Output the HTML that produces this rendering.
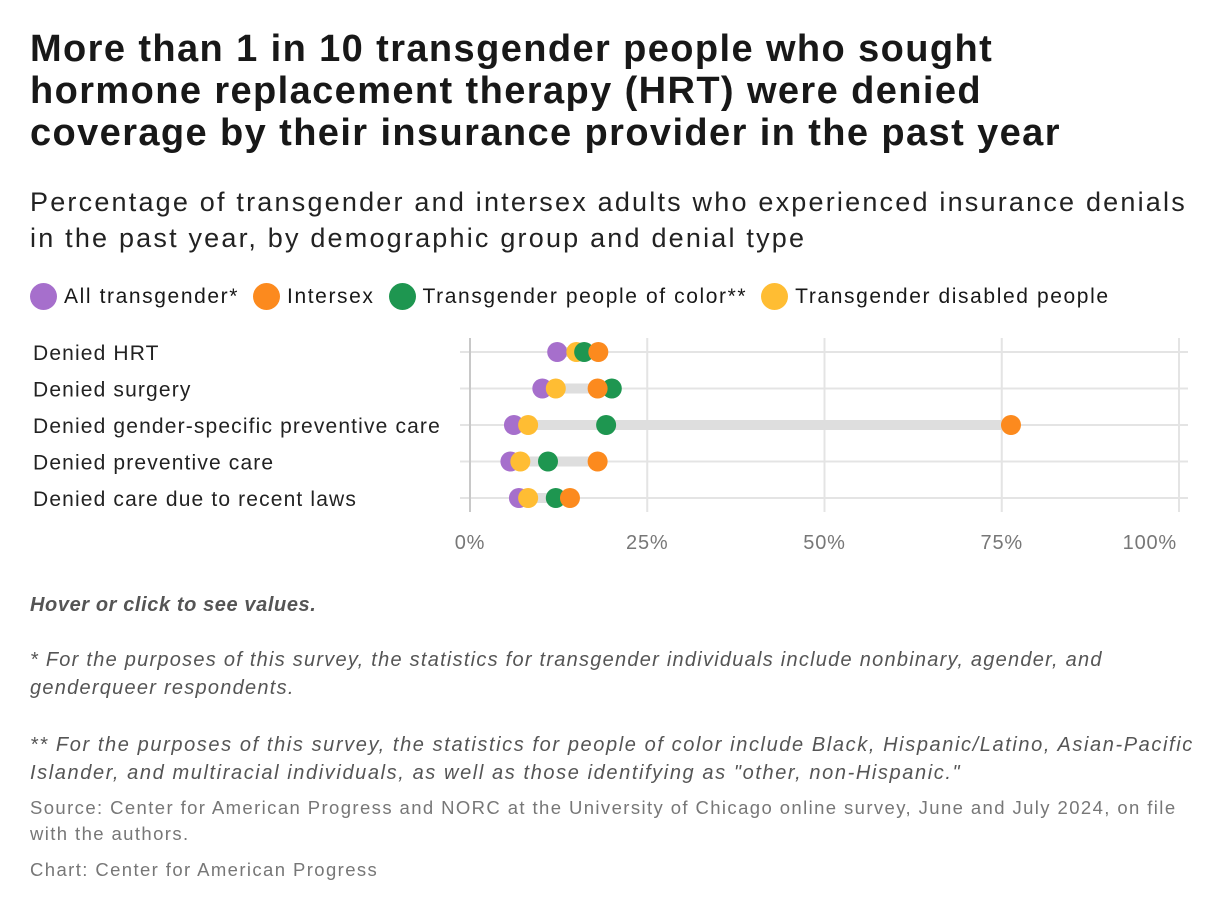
<!DOCTYPE html>
<html><head><meta charset="utf-8"><style>
body{margin:0;background:#fff;width:1220px;height:914px;overflow:hidden;font-family:"Liberation Sans",sans-serif;color:#181818}
h1{position:absolute;left:30px;top:28px;margin:0;font-size:38px;line-height:42px;font-weight:bold;white-space:nowrap;letter-spacing:1.4px}
.sub{position:absolute;left:30px;top:184px;font-size:27px;line-height:36px;color:#222;white-space:nowrap;letter-spacing:2.2px}
.legend{position:absolute;left:30px;top:283px;font-size:21px;display:flex;align-items:center;letter-spacing:1.6px;white-space:nowrap}
.li{display:flex;align-items:center;margin-right:14px}
.dot{width:27px;height:27px;border-radius:50%;margin-right:7px}
.note{position:absolute;left:30px;font-size:20px;font-style:italic;color:#555;line-height:28px;white-space:nowrap;letter-spacing:1.2px}
.src{position:absolute;left:30px;font-size:18.5px;color:#777;line-height:26px;white-space:nowrap;letter-spacing:1.4px}
</style></head><body>
<h1>More than 1 in 10 transgender people who sought<br>hormone replacement therapy (HRT) were denied<br>coverage by their insurance provider in the past year</h1>
<div class="sub">Percentage of transgender and intersex adults who experienced insurance denials<br>in the past year, by demographic group and denial type</div>
<div class="legend">
<div class="li"><div class="dot" style="background:#a66fcc"></div>All transgender*</div>
<div class="li"><div class="dot" style="background:#fc8a1e"></div>Intersex</div>
<div class="li"><div class="dot" style="background:#1e9650"></div>Transgender people of color**</div>
<div class="li"><div class="dot" style="background:#ffbd33"></div>Transgender disabled people</div>
</div>
<svg id="chart" style="position:absolute;left:0;top:330px" width="1220" height="230"></svg>
<div class="note" style="top:591px;font-weight:bold;letter-spacing:0.6px">Hover or click to see values.</div>
<div class="note" style="top:646px;letter-spacing:1.25px">* For the purposes of this survey, the statistics for transgender individuals include nonbinary, agender, and<br>genderqueer respondents.</div>
<div class="note" style="top:731px;letter-spacing:1.6px">** For the purposes of this survey, the statistics for people of color include Black, Hispanic/Latino, Asian-Pacific<br>Islander, and multiracial individuals, as well as those identifying as "other, non-Hispanic."</div>
<div class="src" style="top:795px">Source: Center for American Progress and NORC at the University of Chicago online survey, June and July 2024, on file<br>with the authors.</div>
<div class="src" style="top:857px">Chart: Center for American Progress</div>
<script>
const categories=["Denied HRT","Denied surgery","Denied gender-specific preventive care","Denied preventive care","Denied care due to recent laws"];
const allTrans=[12.3,10.2,6.2,5.7,6.9];
const disabled=[15,12.1,8.2,7.1,8.2];
const poc=[16.1,20,19.2,11,12.1];
const intersex=[18.1,18,76.3,18,14.1];
const ticks=[0,25,50,75,100];
const tickLabels=["0%","25%","50%","75%","100%"];
const NS="http://www.w3.org/2000/svg";
const svg=document.getElementById('chart');
const x=v=>470+v*7.09;
const y=i=>22+i*36.5;
function mk(t,a){const e=document.createElementNS(NS,t);for(const k in a)e.setAttribute(k,a[k]);svg.appendChild(e);return e;}
categories.forEach((c,i)=>{
 const g=mk('line',{x1:460,x2:1188,y1:y(i),y2:y(i),stroke:'#e4e4e4','stroke-width':2});
 
 
 const t=mk('text',{x:33,y:y(i)+8,'font-size':21,fill:'#222','letter-spacing':1.15});t.textContent=c;
 
 
});
ticks.forEach((v,j)=>{
 const l=mk('line',{x1:x(v),x2:x(v),y1:8,y2:182,stroke:j==0?'#c8c8c8':'#e4e4e4','stroke-width':2});
 
 
 const last=j==ticks.length-1;
 const t=mk('text',{x:last?x(v)-2:x(v),y:219,'font-size':20,fill:'#777','text-anchor':last?'end':'middle','letter-spacing':0.8});t.textContent=tickLabels[j];
 
 
});
const series=[[allTrans,'#a66fcc','all-transgender'],[disabled,'#ffbd33','disabled'],[poc,'#1e9650','poc'],[intersex,'#fc8a1e','intersex']];
categories.forEach((c,i)=>{
 const vals=series.map(s=>s[0][i]);
 const r=mk('line',{x1:x(Math.min(...vals)),x2:x(Math.max(...vals)),y1:y(i),y2:y(i),stroke:'#dedede','stroke-width':10});
 
 
});
series.forEach(s=>{
 s[0].forEach((v,i)=>{
  const d=mk('circle',{cx:x(v),cy:y(i),r:10,fill:s[1]});
  
  
 });
});
</script>
</body></html>
